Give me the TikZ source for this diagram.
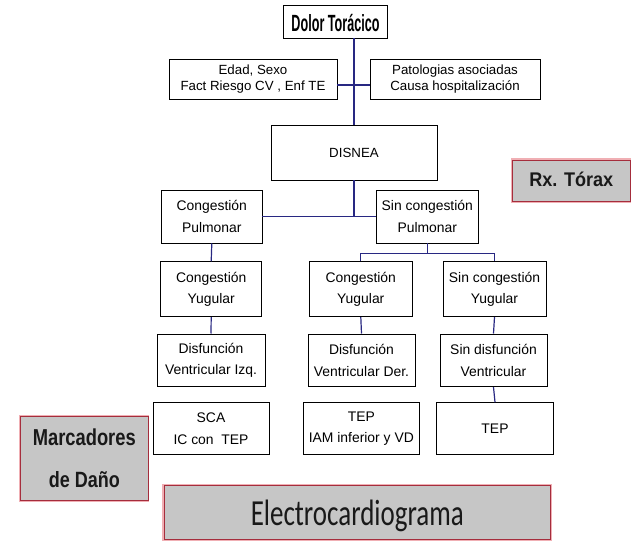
\documentclass[tikz,border=0pt]{standalone}
\usepackage{fontspec}
\usepackage{graphicx}
\setmainfont{Liberation Sans}
\newfontfamily\carlito{Carlito}
\definecolor{lineblue}{RGB}{40,40,130}
\definecolor{boxgray}{RGB}{198,198,198}
\definecolor{darkred}{RGB}{165,45,60}
\definecolor{halo}{RGB}{240,175,180}
\tikzset{
  wbox/.style={draw=black, line width=0.9pt, fill=white, inner sep=0pt, align=center},
  small/.style={font=\fontsize{13.3}{15.5}\selectfont},
  mid/.style={font=\fontsize{13.9}{21.5}\selectfont},
  gbox/.style={draw=darkred, line width=0.9pt, fill=boxgray, inner sep=0pt, align=center,
     preaction={draw=halo, line width=3pt}, text=black!90},
  conn/.style={draw=lineblue, line width=1.2pt},
}
\begin{document}
\begin{tikzpicture}[x=1pt,y=-1pt]
\useasboundingbox[fill=white] (0,0) rectangle (641,541);
% top
\node[wbox, minimum width=104.4pt, minimum height=33pt, text height=20.4pt, text depth=0pt] (dolor) at (335.5,21.5)
  {\bfseries\resizebox{88pt}{17.2pt}{Dolor Torácico}};
\node[wbox, small, minimum width=168pt, minimum height=40pt] (edad) at (253,79)
  {Edad, Sexo\\Fact Riesgo CV , Enf TE};
\node[wbox, small, minimum width=170pt, minimum height=40pt] (pat) at (455,79)
  {Patologias asociadas\\Causa hospitalización};
\node[wbox, small, minimum width=166pt, minimum height=55pt] (disnea) at (354,152.5) {DISNEA};
% second level
\node[wbox, mid, minimum width=100.3pt, minimum height=53pt] (cp) at (211.8,216.5) {Congestión\\Pulmonar};
\node[wbox, mid, minimum width=101.3pt, minimum height=53pt] (scp) at (427.3,216.5) {Sin congestión\\Pulmonar};
% third level
\node[wbox, mid, minimum width=101pt, minimum height=55pt] (cy1) at (211.2,289.2) {Congestión\\Yugular};
\node[wbox, mid, minimum width=103.7pt, minimum height=55pt] (cy2) at (360.8,289.2) {Congestión\\Yugular};
\node[wbox, mid, minimum width=103pt, minimum height=55pt] (scy) at (494.5,289.2) {Sin congestión\\Yugular};
% fourth level
\node[wbox, mid, minimum width=108pt, minimum height=52.7pt] (di) at (211,360.3) {Disfunción\\Ventricular Izq.};
\node[wbox, mid, minimum width=107pt, minimum height=52.7pt] (dd) at (361.5,360.3) {Disfunción\\Ventricular Der.};
\node[wbox, mid, minimum width=107pt, minimum height=52.7pt] (sd) at (493.5,360.3) {Sin disfunción\\Ventricular};
% fifth level
\node[wbox, mid, minimum width=116pt, minimum height=51.6pt] (sca) at (211,428.5) {SCA\\IC con\ \ TEP};
\node[wbox, mid, minimum width=116pt, minimum height=51.6pt] (tep1) at (361.3,428.5) {TEP\\IAM inferior y VD};
\node[wbox, mid, minimum width=116.6pt, minimum height=51.6pt] (tep2) at (495,428.5) {TEP};
% gray boxes
\node[gbox, minimum width=117.3pt, minimum height=41.7pt, text height=11.8pt, text depth=0pt] (rx) at (571.3,180.8)
  {\bfseries\resizebox{84pt}{14.5pt}{Rx. Tórax}};
\node[gbox, minimum width=127.3pt, minimum height=83.6pt, font=\fontsize{12}{42.3}\selectfont] (marc) at (84.3,458.5)
  {\bfseries\resizebox{103pt}{16.7pt}{Marcadores}\\\bfseries\resizebox{71pt}{16pt}{de Daño}};
\node[gbox, minimum width=386.7pt, minimum height=54pt, text height=26pt, text depth=0pt] (ecg) at (357.3,512.5)
  {\carlito\resizebox{213pt}{25.5pt}{Electrocardiograma}};
% connectors
\draw[conn] (disnea.north) -- (disnea.north |- dolor.south);
\draw[conn] ([yshift=-6pt]edad.east) -- ([yshift=-6pt]pat.west);
\draw[conn] (disnea.south) -- (disnea.south |- cp.east);
\draw[conn] (cp.east) -- (scp.west);
\draw[conn] (cp.south) -- (cy1.north);
\draw[conn] (cy1.south) -- (di.north);
\draw[conn] (scp.south) -- ++(0,9.7) coordinate (j);
\draw[conn] (cy2.north) -- (cy2.north |- j) -- (scy.north |- j) -- (scy.north);
\draw[conn] (cy2.south) -- (dd.north);
\draw[conn] (scy.south) -- (sd.north);
\draw[conn] (sd.south) -- (tep2.north);
\end{tikzpicture}
\end{document}
